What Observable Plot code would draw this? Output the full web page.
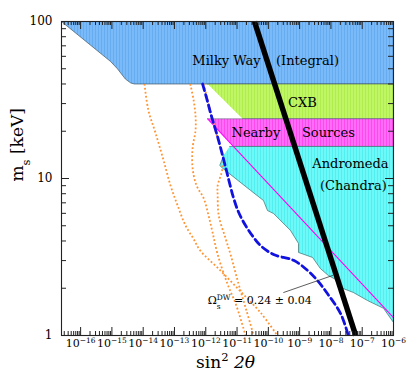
<!DOCTYPE html>
<html><head><meta charset="utf-8">
<script src="https://cdn.jsdelivr.net/npm/d3@7"></script>
<script src="https://cdn.jsdelivr.net/npm/@observablehq/plot@0.6"></script>
<style>body{margin:0;background:#fff}</style>
</head><body><div id="chart"></div>
<script>
// ---- data (x = sin^2 2θ, y = m_s [keV]) ----
const milkyWay = [[2.45e-17,100],[9.1e-16,55.6],[1.5e-15,50],[2.7e-15,43],[4e-15,40.6],[5.2e-15,40],[1e-6,40],[1e-6,100]];
const cxb = [[1.15e-12,40],[1e-6,40],[1e-6,24],[1.5e-11,24]];
const nearbySources = [[1.15e-12,24],[1e-6,24],[1e-6,16],[7.9e-12,16]];
const andromeda = [[5.8e-12,16],[1e-6,16],[1e-6,1.21],[4.8e-7,1.49],[1.48e-7,1.67],[5.2e-8,1.88],[2.04e-8,2.02],[1.63e-8,2.24],[8.3e-9,2.41],[4.6e-9,2.67],[2.6e-9,3.14],[9.2e-10,3.38],[9.2e-10,3.86],[5.1e-10,4.67],[1.47e-10,5.98],[9.4e-11,6.25],[7.0e-11,7.24],[2.7e-11,8.4],[3.5e-12,11.6],[2.8e-12,12.1],[3.7e-12,14.0]];
const magentaLine = [[1.15e-12,24],[1e-6,1.3]];
const blackLine = [[3.6e-11,100],[6.2e-8,1]];
const blueDashed = [[7.9e-13,40],[1.07e-12,32.4],[1.44e-12,25.9],[2.43e-12,18.2],[3.8e-12,13.0],[5.5e-12,9.7],[7.8e-12,7.47],[1.13e-11,6.07],[1.87e-11,5.02],[3.4e-11,4.21],[5.6e-11,3.74],[1.47e-10,3.28],[6.4e-10,3.01],[1.79e-9,2.6],[3.7e-9,2.24],[7.7e-9,1.85],[2.04e-8,1.38],[3.6e-8,1.0]];
const orange1 = [[1.1e-14,40],[1.47e-14,27.1],[2.5e-14,19.4],[4.5e-14,13.0],[7.5e-14,9.0],[1.26e-13,6.73],[2.25e-13,5.02],[4.0e-13,4.15],[6.7e-13,3.47],[2.9e-12,2.6],[1.28e-11,1.91],[5.6e-11,1.4],[1.95e-10,1.0]];
const orange2 = [[3.2e-13,40],[4.1e-13,31.4],[4.7e-13,25.2],[4.7e-13,20.2],[3.8e-13,15.7],[3.8e-13,11.6],[5.1e-13,9.0],[8.6e-13,7.47],[1.23e-12,5.8],[1.65e-12,4.53],[2.4e-12,3.28],[4.9e-12,2.14],[9.5e-12,1.55],[1.86e-11,1.0]];
const orange3 = [[8.5e-13,40],[1.42e-12,27.1],[2.04e-12,20.2],[2.9e-12,15.7],[3.7e-12,13.0],[3.2e-12,10.9],[2.4e-12,9.0],[2.4e-12,7.8],[2.6e-12,5.8],[4.3e-12,4.15],[6.2e-12,3.28],[1.11e-11,2.14],[2.0e-11,1.44],[3.4e-11,1.0]];
const annotationLine = [[3.1e-10,1.88],[1.12e-8,2.41]];
const regionLabels = [
  {text:"Milky Way", x:4.6e-12, y:56.5},
  {text:"(Integral)", x:1.78e-9, y:56.5},
  {text:"CXB", x:1.23e-9, y:30.5},
  {text:"Nearby", x:4.0e-11, y:19.4},
  {text:"Sources", x:8.3e-9, y:19.4},
  {text:"Andromeda", x:4.2e-8, y:12.46},
  {text:"(Chandra)", x:5.2e-8, y:9.0}
];
const annotation = [{text:"Ω_{s}^{DW} = 0.24 ± 0.04", x:1.15e-12, y:1.66}];
const xTickExponents = [-16,-15,-14,-13,-12,-11,-10,-9,-8,-7,-6];
const yTickValues = [1,10,100];
const xTitle = "sin^{2} ~{2θ}";
const yTitle = "m_{s} [keV]";

// ---- layout ----
const W = 415, H = 388, mL = 61, mR = 22, mT = 21, mB = 53;
const fw = W - mL - mR, fh = H - mT - mB;
const xDomain = [2.45e-17, 1e-6], yDomain = [1, 100];
const xMajor = xTickExponents.map(e => 10 ** e);
const xMinor = d3.range(-17, -6).flatMap(e => d3.range(2, 10).map(k => k * 10 ** e)).filter(v => v >= xDomain[0] && v <= xDomain[1]);
const yMinor = [0, 1].flatMap(e => d3.range(2, 10).map(k => k * 10 ** e));
const ns = "http://www.w3.org/2000/svg";

const P = (arr, opts) => Plot.line(arr, {x: d => d[0], y: d => d[1], ...opts});
const border = "#3f5866";
const dotted = {stroke: "#ff9433", strokeWidth: 1.8, strokeDasharray: "1.8,2.2", strokeLinecap: "butt", curve: "catmull-rom"};

const svg = Plot.plot({
  width: W, height: H,
  marginLeft: mL, marginRight: mR, marginTop: mT, marginBottom: mB,
  style: {background: "white", fontFamily: "DejaVu Serif", color: "black"},
  x: {type: "log", domain: xDomain, axis: null},
  y: {type: "log", domain: yDomain, axis: null},
  marks: [
    P(milkyWay, {fill: "url(#hBlue)", stroke: border, strokeWidth: 0.7}),
    P(cxb, {fill: "url(#hGreen)", stroke: border, strokeWidth: 0.6}),
    P(nearbySources, {fill: "url(#hMagenta)", stroke: border, strokeWidth: 0.5}),
    P(andromeda, {fill: "url(#hCyan)", stroke: "#3c6f6f", strokeWidth: 0.7}),
    P(magentaLine, {stroke: "#ff00ff", strokeWidth: 1.1}),
    P(orange1, dotted),
    P(orange2, dotted),
    P(orange3, dotted),
    P(blueDashed, {stroke: "#1212e0", strokeWidth: 2.8, strokeDasharray: "7,4", curve: "catmull-rom"}),
    Plot.text(regionLabels, {x: "x", y: "y", text: "text", fontSize: 13, fill: "black"}),
    P(blackLine, {stroke: "black", strokeWidth: 5.5, strokeLinecap: "butt"}),
    P(annotationLine, {stroke: "#333", strokeWidth: 0.8}),
    Plot.text(annotation, {x: "x", y: "y", text: "text", textAnchor: "start", fontSize: 11}),
    // inward ticks on all four sides
    Plot.tickX(xMinor, {x: d => d, insetTop: fh - 4, stroke: "#222"}),
    Plot.tickX(xMajor, {x: d => d, insetTop: fh - 8, stroke: "#222"}),
    Plot.tickX(xMinor, {x: d => d, insetBottom: fh - 4, stroke: "#222"}),
    Plot.tickX(xMajor, {x: d => d, insetBottom: fh - 8, stroke: "#222"}),
    Plot.tickY(yMinor, {y: d => d, insetRight: fw - 5, stroke: "#222"}),
    Plot.tickY(yTickValues, {y: d => d, insetRight: fw - 8, stroke: "#222"}),
    Plot.tickY(yMinor, {y: d => d, insetLeft: fw - 5, stroke: "#222"}),
    Plot.tickY(yTickValues, {y: d => d, insetLeft: fw - 8, stroke: "#222"}),
    Plot.frame({stroke: "#222", strokeWidth: 1.1}),
    Plot.text(xTickExponents, {x: e => 10 ** e, text: e => `10^{−${-e}}`, frameAnchor: "bottom", dy: 11, fontSize: 11}),
    Plot.text(yTickValues, {y: d => d, text: d => String(d), frameAnchor: "left", dx: -9, textAnchor: "end", fontSize: 12}),
    Plot.text([xTitle], {text: d => d, frameAnchor: "bottom", dy: 32, dx: -2, fontSize: 17}),
    Plot.text([yTitle], {text: d => d, frameAnchor: "left", dx: -44, dy: 3, rotate: -90, fontSize: 17})
  ]
});

// striped fills
const defs = document.createElementNS(ns, "defs");
[["hBlue", "#66acf0", "#90c8ff"], ["hGreen", "#b0ec4c", "#ccff7e"], ["hMagenta", "#ff48ee", "#ff90ff"], ["hCyan", "#50f0f0", "#8cffff"]].forEach(([id, base, stripe]) => {
  const p = document.createElementNS(ns, "pattern");
  p.setAttribute("id", id); p.setAttribute("patternUnits", "userSpaceOnUse");
  p.setAttribute("width", 3); p.setAttribute("height", 6);
  const r1 = document.createElementNS(ns, "rect");
  r1.setAttribute("width", 3); r1.setAttribute("height", 6); r1.setAttribute("fill", base);
  const r2 = document.createElementNS(ns, "rect");
  r2.setAttribute("width", 1); r2.setAttribute("height", 6); r2.setAttribute("fill", stripe);
  p.appendChild(r1); p.appendChild(r2); defs.appendChild(p);
});
svg.insertBefore(defs, svg.firstChild);
document.getElementById("chart").appendChild(svg);

// rich text: ^{sup} _{sub} ~{italic}
svg.querySelectorAll("text").forEach(t => {
  const s = t.textContent;
  if (!/[_^~]\{/.test(s)) return;
  while (t.firstChild) t.removeChild(t.firstChild);
  const re = /([_^~])\{([^}]*)\}|([^_^~]+)/g;
  let m, lastSub = 0;
  while ((m = re.exec(s))) {
    const sp = document.createElementNS(ns, "tspan");
    if (m[3] !== undefined) { sp.textContent = m[3]; t.appendChild(sp); lastSub = 0; continue; }
    sp.textContent = m[2];
    if (m[1] === "~") { sp.setAttribute("font-style", "italic"); t.appendChild(sp); lastSub = 0; continue; }
    sp.setAttribute("font-size", "68%");
    sp.setAttribute("baseline-shift", m[1] === "^" ? "super" : "sub");
    if (m[1] === "^" && lastSub) sp.setAttribute("dx", -lastSub);
    t.appendChild(sp);
    lastSub = m[1] === "_" ? sp.getComputedTextLength() : 0;
  }
});
</script>
</body></html>
